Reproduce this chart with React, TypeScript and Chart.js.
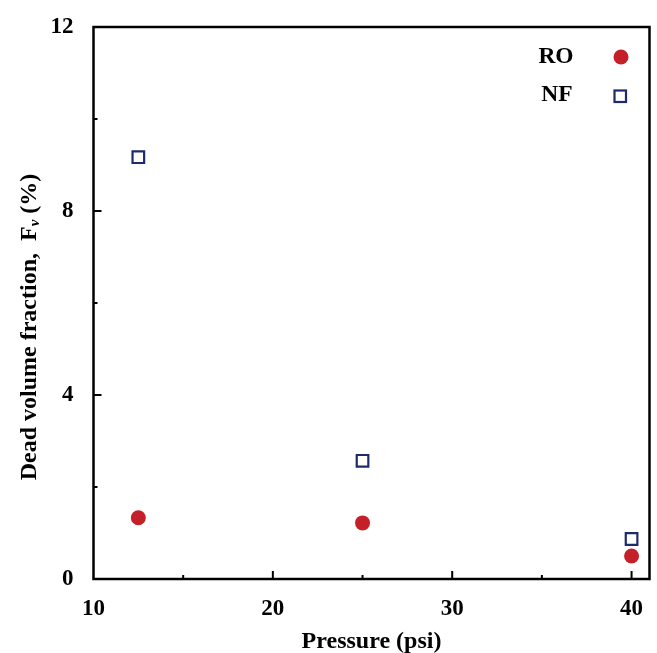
import React, { useEffect, useRef } from "react";
import { Chart, registerables } from "chart.js";

Chart.register(...registerables);

const PRESSURE = [12.5, 25, 40];
const RO_VALUES = [1.33, 1.22, 0.5];
const NF_VALUES = [9.17, 2.57, 0.87];
const X_TICKS = [10, 20, 30, 40];
const X_MINOR = [15, 25, 35];
const Y_TICKS = [0, 4, 8, 12];
const Y_MINOR = [2, 6, 10];
const LEGEND_LABELS = ["RO", "NF"];

const RED = "#c4202a";
const NAVY = "#1f2a6b";
const FONT = "'Liberation Serif', 'Times New Roman', serif";

const framePlugin = {
  id: "frame",
  afterDraw(chart: any) {
    const { ctx, chartArea: a, scales } = chart;
    const xs = scales.x;
    const ys = scales.y;
    ctx.save();
    ctx.strokeStyle = "#000";
    ctx.lineWidth = 2.5;
    ctx.strokeRect(a.left, a.top, a.right - a.left, a.bottom - a.top);
    ctx.lineWidth = 2;
    ctx.beginPath();
    X_TICKS.forEach((v) => {
      if (v === xs.min) return;
      const px = xs.getPixelForValue(v);
      ctx.moveTo(px, a.bottom);
      ctx.lineTo(px, a.bottom - 8);
    });
    X_MINOR.forEach((v) => {
      const px = xs.getPixelForValue(v);
      ctx.moveTo(px, a.bottom);
      ctx.lineTo(px, a.bottom - 4);
    });
    Y_TICKS.forEach((v) => {
      if (v === ys.min || v === ys.max) return;
      const py = ys.getPixelForValue(v);
      ctx.moveTo(a.left, py);
      ctx.lineTo(a.left + 8, py);
    });
    Y_MINOR.forEach((v) => {
      const py = ys.getPixelForValue(v);
      ctx.moveTo(a.left, py);
      ctx.lineTo(a.left + 4, py);
    });
    ctx.stroke();

    // x title
    ctx.fillStyle = "#000";
    ctx.font = `bold 24px ${FONT}`;
    ctx.textAlign = "center";
    ctx.textBaseline = "alphabetic";
    ctx.fillText("Pressure (psi)", (a.left + a.right) / 2, 648);

    // y title with subscript
    ctx.save();
    ctx.translate(36, 327);
    ctx.rotate(-Math.PI / 2);
    const main = "Dead volume fraction,  F";
    const sub = "v";
    const tail = " (%)";
    const mainFont = `bold 24px ${FONT}`;
    const subFont = `italic bold 15px ${FONT}`;
    ctx.font = mainFont;
    const w1 = ctx.measureText(main).width;
    const w3 = ctx.measureText(tail).width;
    ctx.font = subFont;
    const w2 = ctx.measureText(sub).width;
    let x0 = -(w1 + w2 + w3) / 2;
    ctx.textAlign = "left";
    ctx.font = mainFont;
    ctx.fillText(main, x0, 0);
    x0 += w1;
    ctx.font = subFont;
    ctx.fillText(sub, x0, 3);
    x0 += w2;
    ctx.font = mainFont;
    ctx.fillText(tail, x0, 0);
    ctx.restore();

    // legend
    ctx.font = `bold 23.5px ${FONT}`;
    ctx.textAlign = "center";
    ctx.fillStyle = "#000";
    ctx.fillText(LEGEND_LABELS[0], 556, 63);
    ctx.fillText(LEGEND_LABELS[1], 557, 101);
    ctx.fillStyle = RED;
    ctx.beginPath();
    ctx.arc(621, 57, 7.5, 0, Math.PI * 2);
    ctx.fill();
    ctx.strokeStyle = NAVY;
    ctx.lineWidth = 2.2;
    ctx.strokeRect(614.5, 90.5, 11.5, 11.5);
    ctx.restore();
  },
};

export default function App() {
  const ref = useRef<HTMLCanvasElement | null>(null);
  useEffect(() => {
    document.body.style.margin = "0";
    const canvas = ref.current!;
    const chart = new Chart(canvas, {
      type: "scatter",
      data: {
        datasets: [
          {
            label: LEGEND_LABELS[0],
            data: PRESSURE.map((x, i) => ({ x, y: RO_VALUES[i] })),
            pointStyle: "circle",
            pointRadius: 7.5,
            pointBackgroundColor: RED,
            pointBorderWidth: 0,
            pointBorderColor: RED,
          },
          {
            label: LEGEND_LABELS[1],
            data: PRESSURE.map((x, i) => ({ x, y: NF_VALUES[i] })),
            pointStyle: "rect",
            pointRadius: 8.2,
            pointBackgroundColor: "rgba(255,255,255,0)",
            pointBorderColor: NAVY,
            pointBorderWidth: 2.2,
          },
        ],
      },
      options: {
        animation: false,
        responsive: false,
        events: [],
        layout: { autoPadding: false, padding: { top: 27, right: 7.5, left: 0, bottom: 0 } },
        plugins: { legend: { display: false }, tooltip: { enabled: false } },
        scales: {
          x: {
            type: "linear",
            min: 10,
            max: 41,
            afterBuildTicks: (s: any) => {
              s.ticks = X_TICKS.map((v) => ({ value: v }));
            },
            afterFit: (s: any) => {
              s.height = 74;
              s.paddingLeft = 0;
              s.paddingRight = 0;
            },
            grid: { display: false, drawTicks: false },
            border: { display: false },
            ticks: {
              color: "#000",
              padding: 16,
              maxRotation: 0,
              font: { family: FONT, size: 23, weight: "bold" },
            },
          },
          y: {
            type: "linear",
            min: 0,
            max: 12,
            afterBuildTicks: (s: any) => {
              s.ticks = Y_TICKS.map((v) => ({ value: v }));
            },
            afterFit: (s: any) => {
              s.width = 93.5;
              s.paddingTop = 0;
              s.paddingBottom = 0;
            },
            grid: { display: false, drawTicks: false },
            border: { display: false },
            ticks: {
              color: "#000",
              padding: 20,
              font: { family: FONT, size: 23, weight: "bold" },
            },
          },
        },
      },
      plugins: [framePlugin],
    });
    return () => chart.destroy();
  }, []);
  return <canvas ref={ref} width={657} height={653} style={{ display: "block" }} />;
}
